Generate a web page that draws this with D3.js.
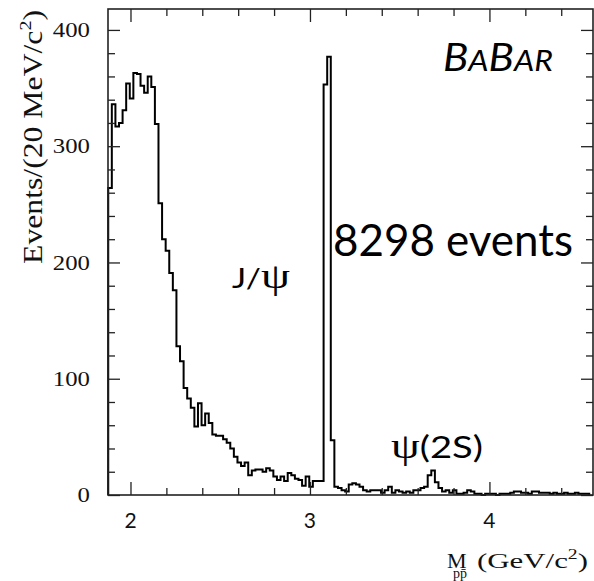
<!DOCTYPE html>
<html><head><meta charset="utf-8">
<script src="https://cdn.jsdelivr.net/npm/d3@7"></script>
<style>body{margin:0;background:#fff} svg{display:block}</style>
</head><body>
<script>
// ---- data ----
const binStart = 1.876;   // GeV/c^2
const binWidth = 0.02;    // 20 MeV/c^2
const counts = [
  264,336,317,320,331,354,341,363,362,352,346,360,351,319,
  251,220,210,191,176,128,115,92,83,75,
  59,79,60,70,62,52,51,51,48,45,40,33,28,25,28,17,21,22,22,20,23,21,16,13,16,12,19,17,14,13,8,16,7,12,12,12,
  353,377,47,
  7,6,4,3,9,10,9,7,4,3,4,4,4,2,4,7,2,4,3,2,3,2,4,4,6,7,17,21,11,6,3,
  4,2,4,1,1,2,4,3,1,1,0,1,1,1,0,1,1,1,2,3,3,2,2,1,3,3,2,2,2,1,2,1,1,2,1,1,2,1,1,1
];
const xTicks = [2, 3, 4];
const xTickLabels = ["2", "3", "4"];
const xMinorTicks = [2.2,2.4,2.6,2.8,3.2,3.4,3.6,3.8,4.2,4.4];
const yTicks = [0, 100, 200, 300, 400];
const yTickLabels = ["0", "100", "200", "300", "400"];
const yMinorTicks = d3.range(20, 401, 20).filter(v => v % 100 !== 0);

// ---- layout ----
const W = 594, H = 581;
const x = d3.scaleLinear().domain([1.8747, 4.577]).range([108, 593]);
const y = d3.scaleLinear().domain([0, 418]).range([495, 9]);

const svg = d3.select("body").append("svg").attr("width", W).attr("height", H);

// histogram
const pts = [[binStart, 0]];
counts.forEach((c, i) => {
  pts.push([binStart + i * binWidth, c]);
  pts.push([binStart + (i + 1) * binWidth, c]);
});
pts.push([binStart + counts.length * binWidth, 0]);
svg.append("path")
  .attr("d", d3.line().x(d => x(d[0])).y(d => y(d[1]))(pts))
  .attr("fill", "none").attr("stroke", "#000").attr("stroke-width", 2)
  .attr("stroke-linejoin", "miter");

// axes (ticks inside on all sides)
function styleAxis(g) {
  g.select(".domain").remove();
  g.selectAll(".tick line").attr("stroke", "#222").attr("stroke-width", 1.3);
  g.selectAll("text").remove();
}
const [x0, x1] = x.range(), [y0, y1] = y.range();
svg.append("g").attr("transform", `translate(0,${y0})`)
  .call(d3.axisBottom(x).tickValues(xTicks).tickSize(-13)).call(styleAxis);
svg.append("g").attr("transform", `translate(0,${y0})`)
  .call(d3.axisBottom(x).tickValues(xMinorTicks).tickSize(-7)).call(styleAxis);
svg.append("g").attr("transform", `translate(0,${y1})`)
  .call(d3.axisTop(x).tickValues(xTicks).tickSize(-13)).call(styleAxis);
svg.append("g").attr("transform", `translate(0,${y1})`)
  .call(d3.axisTop(x).tickValues(xMinorTicks).tickSize(-7)).call(styleAxis);
svg.append("g").attr("transform", `translate(${x0},0)`)
  .call(d3.axisLeft(y).tickValues(yTicks).tickSize(-12)).call(styleAxis);
svg.append("g").attr("transform", `translate(${x0},0)`)
  .call(d3.axisLeft(y).tickValues(yMinorTicks).tickSize(-7)).call(styleAxis);
svg.append("g").attr("transform", `translate(${x1},0)`)
  .call(d3.axisRight(y).tickValues(yTicks).tickSize(-12)).call(styleAxis);
svg.append("g").attr("transform", `translate(${x1},0)`)
  .call(d3.axisRight(y).tickValues(yMinorTicks).tickSize(-7)).call(styleAxis);

// frame
svg.append("rect").attr("x", x0).attr("y", y1).attr("width", x1 - x0).attr("height", y0 - y1)
  .attr("fill", "none").attr("stroke", "#222").attr("stroke-width", 1.6);

// tick labels
const serif = "'Liberation Serif','Times New Roman',serif";
const sans = "Lato,'Open Sans',sans-serif";
svg.append("g").selectAll("text").data(yTicks).join("text")
  .attr("transform", d => `translate(90,${y(d)}) scale(1.18,1)`)
  .attr("dy", "0.34em")
  .attr("text-anchor", "end").attr("font-family", serif).attr("font-size", 21)
  .attr("fill", "#111").text((d, i) => yTickLabels[i]);
svg.append("g").selectAll("text").data(xTicks).join("text")
  .attr("x", d => x(d)).attr("y", 528)
  .attr("text-anchor", "middle").attr("font-family", sans).attr("font-size", 21)
  .attr("fill", "#111").text((d, i) => xTickLabels[i]);

// y axis title
const yt = svg.append("text").attr("transform", "translate(42,264) rotate(-90)")
  .attr("font-family", serif).attr("font-size", 27).attr("fill", "#111")
  .attr("textLength", 254).attr("lengthAdjust", "spacingAndGlyphs");
yt.append("tspan").text("Events/(20 MeV/c");
yt.append("tspan").attr("font-size", 17).attr("dy", -11).text("2");
yt.append("tspan").attr("dy", 11).text(")");

// x axis title (single text element)
const xt = svg.append("text").attr("x", 447).attr("y", 568).attr("font-family", serif)
  .attr("font-size", 22).attr("fill", "#111");
xt.append("tspan").text("M");
xt.append("tspan").attr("x", 453).attr("dy", 10).attr("font-size", 14).text("pp\u0304");
const unit = xt.append("tspan").attr("x", 477).attr("dy", -10)
  .attr("textLength", 111).attr("lengthAdjust", "spacingAndGlyphs");
unit.append("tspan").text("(GeV/c");
unit.append("tspan").attr("font-size", 14).attr("dy", -9).text("2");
unit.append("tspan").attr("dy", 9).text(")");

// BABAR logo
const bb = svg.append("text").attr("x", 443).attr("y", 71)
  .attr("font-family", sans).attr("font-style", "italic").attr("fill", "#000")
  .attr("textLength", 110).attr("lengthAdjust", "spacingAndGlyphs");
bb.append("tspan").attr("font-size", 38).text("B");
bb.append("tspan").attr("font-size", 29).text("A");
bb.append("tspan").attr("font-size", 38).text("B");
bb.append("tspan").attr("font-size", 29).text("AR");

// annotations
svg.append("text").attr("x", 333).attr("y", 256).attr("font-family", sans)
  .attr("font-size", 44).attr("fill", "#000")
  .attr("textLength", 240).attr("lengthAdjust", "spacingAndGlyphs").text("8298 events");
const jp = svg.append("text").attr("x", 232).attr("y", 288).attr("fill", "#000")
  .attr("textLength", 58).attr("lengthAdjust", "spacingAndGlyphs");
jp.append("tspan").attr("font-family", sans).attr("font-size", 26).text("J/");
jp.append("tspan").attr("font-family", serif).attr("font-size", 36).text("\u03c8");
const ps = svg.append("text").attr("x", 391).attr("y", 458).attr("fill", "#000")
  .attr("textLength", 92).attr("lengthAdjust", "spacingAndGlyphs");
ps.append("tspan").attr("font-family", serif).attr("font-size", 36).text("\u03c8");
ps.append("tspan").attr("font-family", sans).attr("font-size", 30).text("(2S)");
</script>
</body></html>
